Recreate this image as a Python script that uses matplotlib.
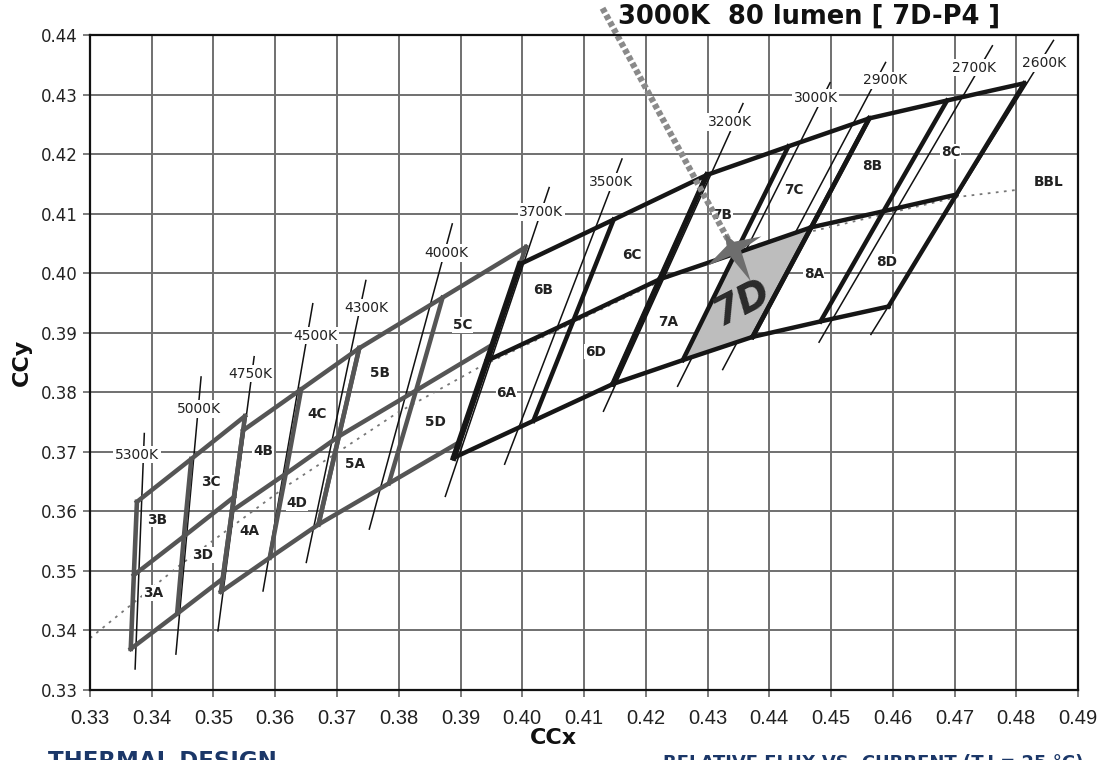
import numpy as np
import matplotlib
matplotlib.use("Agg")
import matplotlib.pyplot as plt
from matplotlib.path import Path
from matplotlib.markers import MarkerStyle
from matplotlib.transforms import Affine2D
from matplotlib.patches import Polygon

# ---------------- data ----------------
x_ticks = [0.33, 0.34, 0.35, 0.36, 0.37, 0.38, 0.39, 0.40, 0.41, 0.42,
           0.43, 0.44, 0.45, 0.46, 0.47, 0.48, 0.49]
y_ticks = [0.33, 0.34, 0.35, 0.36, 0.37, 0.38, 0.39, 0.40, 0.41, 0.42, 0.43, 0.44]

# corner grids of each bin group: rows = top / middle / bottom, cols = left / mid / right
g3_x = [[0.3376, 0.3464, 0.3551], [0.3371, 0.3452, 0.3533], [0.3366, 0.3441, 0.3515]]
g3_y = [[0.3616, 0.3688, 0.3760], [0.3493, 0.3558, 0.3624], [0.3369, 0.3428, 0.3487]]
g4_x = [[0.3548, 0.3642, 0.3736], [0.3530, 0.3617, 0.3703], [0.3512, 0.3591, 0.3670]]
g4_y = [[0.3736, 0.3805, 0.3874], [0.3601, 0.3663, 0.3726], [0.3465, 0.3522, 0.3578]]
g5_x = [[0.3736, 0.3871, 0.4006], [0.3703, 0.3828, 0.3952], [0.3670, 0.3784, 0.3898]]
g5_y = [[0.3874, 0.3959, 0.4044], [0.3726, 0.3803, 0.3880], [0.3578, 0.3647, 0.3716]]
g6_x = [[0.3996, 0.4148, 0.4299], [0.3943, 0.4083, 0.4223], [0.3889, 0.4018, 0.4147]]
g6_y = [[0.4015, 0.4090, 0.4165], [0.3853, 0.3921, 0.3990], [0.3690, 0.3752, 0.3814]]
g7_x = [[0.4299, 0.4431, 0.4562], [0.4223, 0.4345, 0.4468], [0.4147, 0.4260, 0.4373]]
g7_y = [[0.4165, 0.4213, 0.4260], [0.3990, 0.4033, 0.4077], [0.3814, 0.3854, 0.3893]]
g8_x = [[0.4562, 0.4688, 0.4813], [0.4468, 0.4585, 0.4703], [0.4373, 0.4483, 0.4593]]
g8_y = [[0.4260, 0.4290, 0.4319], [0.4077, 0.4104, 0.4132], [0.3893, 0.3919, 0.3944]]

bin_names = ["3A", "3B", "3C", "3D", "4A", "4B", "4C", "4D", "5A", "5B", "5C", "5D",
             "6A", "6B", "6C", "6D", "7A", "7B", "7C", "8A", "8B", "8C", "8D"]
bin_lx = [0.3402, 0.3409, 0.3496, 0.3482, 0.3558, 0.3580, 0.3668, 0.3635, 0.3729, 0.3770,
          0.3903, 0.3859, 0.3974, 0.4034, 0.4178, 0.4118, 0.4237, 0.4324, 0.4439,
          0.4472, 0.4567, 0.4694, 0.4590]
bin_ly = [0.3463, 0.3586, 0.3649, 0.3527, 0.3567, 0.3701, 0.3764, 0.3614, 0.3680, 0.3832,
          0.3913, 0.3750, 0.3799, 0.3972, 0.4031, 0.3868, 0.3918, 0.4098, 0.4140,
          0.3999, 0.4180, 0.4204, 0.4019]

iso_names = ["5300K", "5000K", "4750K", "4500K", "4300K", "4000K", "3700K",
             "3500K", "3200K", "3000K", "2900K", "2700K", "2600K"]
iso_x_top = [0.3388, 0.3480, 0.3566, 0.3661, 0.3747, 0.3887, 0.4044,
             0.4162, 0.4358, 0.4499, 0.4589, 0.4762, 0.4861]
iso_y_top = [0.3732, 0.3827, 0.3861, 0.3950, 0.3989, 0.4084, 0.4145,
             0.4193, 0.4286, 0.4321, 0.4355, 0.4383, 0.4392]
iso_x_bot = [0.3373, 0.3439, 0.3507, 0.3580, 0.3650, 0.3752, 0.3875,
             0.3971, 0.4131, 0.4251, 0.4324, 0.4480, 0.4564]
iso_y_bot = [0.3334, 0.3359, 0.3398, 0.3465, 0.3513, 0.3569, 0.3624,
             0.3678, 0.3767, 0.3809, 0.3837, 0.3883, 0.3896]
iso_lx = [0.3376, 0.3477, 0.3559, 0.3665, 0.3747, 0.3877, 0.4031,
          0.4144, 0.4337, 0.4475, 0.4587, 0.4731, 0.4845]
iso_ly = [0.3695, 0.3772, 0.3831, 0.3895, 0.3942, 0.4034, 0.4103,
          0.4153, 0.4254, 0.4294, 0.4324, 0.4345, 0.4353]

bbl_x = [0.3300, 0.3446, 0.3619, 0.3797, 0.3932, 0.4251, 0.4386, 0.4705, 0.4802]
bbl_y = [0.3387, 0.3510, 0.3643, 0.3765, 0.3843, 0.4000, 0.4050, 0.4128, 0.4140]

arrow_x = [0.4130, 0.4342]
arrow_y = [0.4445, 0.4040]

title = "3000K  80 lumen [ 7D-P4 ]"

# ---------------- figure ----------------
W, H = 1105, 760
fig = plt.figure(figsize=(W / 100, H / 100), dpi=100)
ax = fig.add_axes([90 / W, 1 - 690 / H, (1078 - 90) / W, (690 - 35) / H])
ax.set_xlim(0.33, 0.49)
ax.set_ylim(0.33, 0.44)

ax.set_xticks(x_ticks)
ax.set_yticks(y_ticks)
ax.set_xticklabels([f"{v:.2f}" for v in x_ticks],
                   fontfamily=["Liberation Sans Narrow", "Liberation Sans", "DejaVu Sans"],
                   fontsize=14.5, color="#222222")
ax.set_yticklabels([f"{v:.2f}" for v in y_ticks],
                   fontfamily="DejaVu Sans", fontsize=12, color="#222222")
ax.tick_params(axis="both", direction="out", length=5, width=1.2, color="#666666", pad=4)
ax.tick_params(axis="x", pad=9)
ax.grid(True, color="#707070", lw=1.4, zorder=0)
ax.set_axisbelow(True)
for s in ax.spines.values():
    s.set_linewidth(1.6)
    s.set_color("#111111")
    s.set_zorder(10)

# BBL
ax.plot(bbl_x, bbl_y, color="#777777", lw=1.3, ls=(0, (1.5, 3)), zorder=1)

# isotherm lines
for i in range(len(iso_names)):
    ax.plot([iso_x_top[i], iso_x_bot[i]], [iso_y_top[i], iso_y_bot[i]],
            color="#111111", lw=1.1, zorder=2.2, solid_capstyle="butt")

# 7D fill (group-7 grid: center, mid-right, bottom-right, bottom-mid)
fill_pts = [(g7_x[1][1], g7_y[1][1]), (g7_x[1][2], g7_y[1][2]),
            (g7_x[2][2], g7_y[2][2]), (g7_x[2][1], g7_y[2][1])]
ax.add_patch(Polygon(fill_pts, closed=True, facecolor="#bdbdbd", edgecolor="none", zorder=2.6))

groups = [(g3_x, g3_y, "#555555", 3.3), (g4_x, g4_y, "#555555", 3.3),
          (g5_x, g5_y, "#555555", 3.3), (g6_x, g6_y, "#161616", 4.3),
          (g7_x, g7_y, "#161616", 4.0), (g8_x, g8_y, "#161616", 3.4)]
for gi, (gx, gy, col, lw_left) in enumerate(groups):
    z = 2.4 if gi < 3 else 3
    for r in range(3):
        ax.plot(gx[r], gy[r], color=col, lw=3.2, zorder=z, solid_joinstyle="miter",
                solid_capstyle="projecting")
    for c in range(3):
        ax.plot([gx[r][c] for r in range(3)], [gy[r][c] for r in range(3)],
                color=col, lw=(lw_left if c == 0 else 3.2), zorder=z,
                solid_joinstyle="miter", solid_capstyle="projecting")

# isotherm labels
for i in range(len(iso_names)):
    ax.text(iso_lx[i], iso_ly[i], iso_names[i], fontsize=10, color="#222222",
            ha="center", va="center", zorder=5, family="DejaVu Sans",
            bbox=dict(boxstyle="square,pad=0.12", fc="white", ec="none"))

# bin labels
for i in range(len(bin_names)):
    ax.text(bin_lx[i], bin_ly[i], bin_names[i], fontsize=9.8, fontweight="bold",
            color="#222222", ha="center", va="center", zorder=5, family="DejaVu Sans",
            bbox=dict(boxstyle="square,pad=0.05", fc="white", ec="none"))

ax.text(0.4853, 0.4153, "BBL", fontsize=9.8, fontweight="bold", color="#222222",
        ha="center", va="center", zorder=5,
        bbox=dict(boxstyle="square,pad=0.05", fc="white", ec="none"))

# big 7D label
ax.text(0.4357, 0.3950, "7D", fontsize=28, fontweight="bold", fontstyle="italic",
        color="#2a2a2a", ha="center", va="center", rotation=27, zorder=5, family="DejaVu Sans")

# arrow
ax.plot(arrow_x, arrow_y, color="#8a8a8a", lw=4.5, ls=(0, (0.8, 0.45)),
        zorder=6, clip_on=False, solid_capstyle="butt")
star = Path([(1.0, 0.0), (0.12, 0.17), (0.05, 0.85), (-0.18, 0.12), (-0.5, 0.0),
             (-0.18, -0.12), (0.05, -0.85), (0.12, -0.17), (1.0, 0.0)])
p0 = ax.transData.transform((arrow_x[0], arrow_y[0]))
p1 = ax.transData.transform((arrow_x[1], arrow_y[1]))
ang = np.degrees(np.arctan2(p1[1] - p0[1], p1[0] - p0[0]))
ms = MarkerStyle(star, transform=Affine2D().rotate_deg(ang))
ax.plot([arrow_x[1]], [arrow_y[1]], marker=ms, markersize=52, color="#6e6e6e",
        mec="none", zorder=6.5, clip_on=False)

# axis labels
fig.text(553 / W, 1 - 738 / H, "CCx", fontsize=16, fontweight="bold",
         family="DejaVu Sans", ha="center", va="center", color="#111111")
fig.text(22 / W, 1 - 362 / H, "CCy", fontsize=16, fontweight="bold", rotation=90,
         family="DejaVu Sans", ha="center", va="center", color="#111111")

# title
fig.text(618 / W, 1 - 17 / H, title, fontsize=18.5, fontweight="bold",
         family="DejaVu Sans", ha="left", va="center", color="#111111")

# footer texts (cut off by the bottom edge, as in the source image)
fig.text(48 / W, 1 - 750 / H, "THERMAL DESIGN", fontsize=16.5, fontweight="bold",
         color="#1b3768", ha="left", va="top", family="DejaVu Sans")
fig.text(663 / W, 1 - 754 / H, "RELATIVE FLUX VS. CURRENT (T\u2009J = 25 \u00b0C)", fontsize=13,
         fontweight="bold", color="#1b3768", ha="left", va="top", family="DejaVu Sans")

fig.savefig("out.png", dpi=100)
